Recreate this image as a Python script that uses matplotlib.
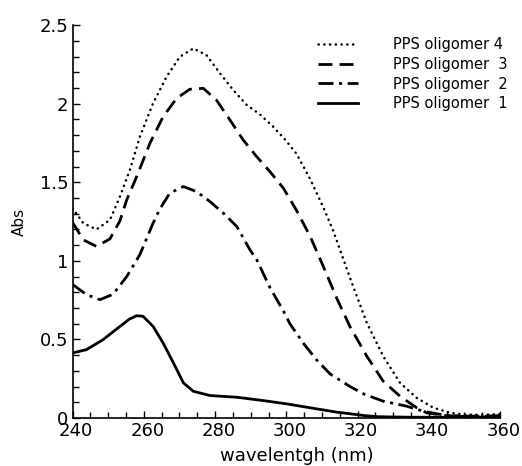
import matplotlib
matplotlib.use("Agg")
import matplotlib.pyplot as plt
import matplotlib.transforms as mtrans
from matplotlib.ticker import MultipleLocator

# Data (wavelength nm, absorbance)
x4 = [240, 243, 246.7, 250.5, 253.3, 256.1, 258.9, 262.6, 266.4, 270.1, 273.9, 277.6,
      281.4, 285.1, 288.9, 292.6, 296.3, 300.1, 302.9, 306.7, 310.4, 313.2, 317.9,
      322.6, 327.2, 331.9, 336.6, 341.3, 346, 350, 355, 360]
y4 = [1.335, 1.24, 1.200, 1.261, 1.409, 1.579, 1.79, 2.003, 2.172, 2.299, 2.352, 2.309,
      2.193, 2.087, 1.992, 1.932, 1.854, 1.76, 1.68, 1.52, 1.34, 1.19, 0.89,
      0.605, 0.393, 0.224, 0.128, 0.065, 0.033, 0.022, 0.02, 0.025]

x3 = [240, 243, 246.7, 250.5, 253.3, 255.2, 258, 261.7, 265.4, 269.2, 272.9, 276.7,
      280.4, 284.2, 287.9, 291.7, 295.4, 299.2, 302.9, 306.7, 310.4, 314.2, 317.9,
      322.6, 327.2, 331.9, 336.6, 339.4, 345, 350, 355, 360]
y3 = [1.245, 1.134, 1.092, 1.14, 1.255, 1.388, 1.536, 1.748, 1.917, 2.034, 2.092, 2.098,
      2.023, 1.896, 1.769, 1.663, 1.568, 1.462, 1.32, 1.155, 0.964, 0.76, 0.58,
      0.393, 0.234, 0.139, 0.065, 0.033, 0.015, 0.012, 0.012, 0.015]

x2 = [240, 243.9, 247.7, 251.4, 255.2, 258.9, 262.6, 264.5, 267.3, 271.1, 274.8, 278.6,
      282.3, 286.1, 289.8, 291.7, 295.4, 299.2, 301, 304.8, 308.5, 312.3, 317.9, 322,
      327.2, 333.8, 338.5, 345, 350, 360]
y2 = [0.85, 0.785, 0.753, 0.788, 0.90, 1.04, 1.24, 1.33, 1.431, 1.473, 1.441, 1.377,
      1.304, 1.219, 1.07, 1.007, 0.83, 0.68, 0.6, 0.475, 0.37, 0.28, 0.2, 0.15,
      0.107, 0.075, 0.043, 0.015, 0.01, 0.01]

x1 = [240, 243.9, 248.6, 253.3, 256, 258, 259.8, 262.6, 265.4, 268.3, 271.1, 273.9,
      278.6, 286.1, 293.5, 300.1, 306.7, 314.2, 317.9, 322, 326, 335, 350, 360]
y1 = [0.414, 0.435, 0.499, 0.583, 0.63, 0.651, 0.647, 0.583, 0.478, 0.351, 0.224, 0.17,
      0.143, 0.132, 0.111, 0.09, 0.065, 0.037, 0.027, 0.015, 0.008, 0.005, 0.005, 0.005]

labels = ["PPS oligomer 4", "PPS oligomer  3", "PPS oligomer  2", "PPS oligomer  1"]

fig = plt.figure(figsize=(5.22, 4.66), dpi=100)
ax = fig.add_axes([0.139, 0.103, 0.819, 0.843])

lw = 2.0
ax.plot(x4, y4, color="black", lw=1.8, linestyle=(0, (0.1, 2.2)),
        dash_capstyle="round", solid_joinstyle="round", label=labels[0])
ax.plot(x3, y3, color="black", lw=lw, linestyle=(0, (5, 2.6)), label=labels[1])
ax.plot(x2, y2, color="black", lw=lw, linestyle=(0, (5.4, 2, 1.1, 2)), label=labels[2])
ax.plot(x1, y1, color="black", lw=lw, linestyle="-", solid_joinstyle="round",
        label=labels[3])

ax.set_xlim(240, 360)
ax.set_ylim(0, 2.5)
ax.xaxis.set_major_locator(MultipleLocator(20))
ax.xaxis.set_minor_locator(MultipleLocator(5))
ax.yaxis.set_minor_locator(MultipleLocator(0.1))
ax.set_yticks([0, 0.5, 1, 1.5, 2, 2.5])
ax.set_yticklabels(["0", "0.5", "1", "1.5", "2", "2.5"])

for s in ["top", "right"]:
    ax.spines[s].set_visible(False)
for s in ["left", "bottom"]:
    ax.spines[s].set_linewidth(1.2)

ax.tick_params(which="major", direction="in", length=5, width=1, labelsize=13, pad=3)
ax.tick_params(which="minor", direction="in", length=4, width=1)
offset = mtrans.ScaledTranslation(2.5 / 72, 0, fig.dpi_scale_trans)
for lab in ax.get_xticklabels():
    lab.set_transform(lab.get_transform() + offset)

ax.set_xlabel("wavelentgh (nm)", fontsize=13)
ax.xaxis.set_label_coords(0.525, -0.075)
ax.set_ylabel("Abs", fontsize=11)
ax.yaxis.set_label_coords(-0.107, 0.5)

leg = ax.legend(loc="upper left", bbox_to_anchor=(0.56, 0.985), frameon=False,
                fontsize=10.5, handlelength=2.75, handletextpad=2.4,
                labelspacing=0.33, borderaxespad=0)

fig.savefig("out.png", dpi=100)
